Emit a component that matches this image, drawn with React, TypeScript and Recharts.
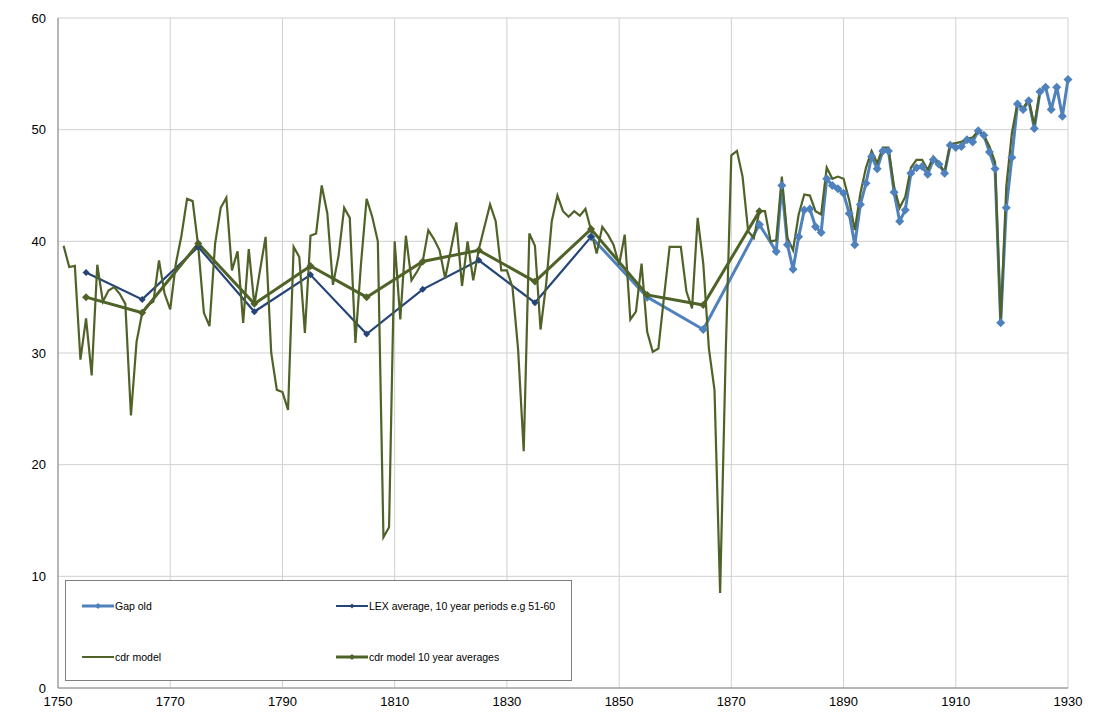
import React from "react";
import { CartesianGrid, Legend, Line, LineChart, XAxis, YAxis } from "recharts";

// cdr model, one value a year from 1751
const cdrStart = 1751;
const cdrModel = [
  39.6, 37.7, 37.8, 29.4, 33.1, 28.0, 37.9, 34.6, 35.6, 35.9,
  35.3, 34.4, 24.4, 31.0, 33.6, 34.3, 34.6, 38.3, 35.3, 33.9,
  38.0, 40.5, 43.8, 43.6, 39.5, 33.6, 32.4, 39.8, 43.0, 43.9,
  37.4, 39.1, 32.7, 39.3, 34.3, 37.4, 40.4, 30.0, 26.7, 26.5,
  24.9, 39.5, 38.6, 31.8, 40.5, 40.7, 45.0, 42.5, 36.1, 38.7,
  43.0, 42.1, 30.9, 38.0, 43.8, 42.2, 40.0, 13.5, 14.4, 40.0,
  33.0, 40.5, 36.5, 37.3, 38.2, 41.0, 40.2, 39.2, 36.7, 39.2,
  41.7, 36.0, 40.0, 36.5, 39.3, 41.3, 43.3, 41.8, 37.4, 37.4,
  35.9, 30.3, 21.2, 40.7, 39.6, 32.1, 36.2, 41.8, 44.1, 42.7,
  42.2, 42.7, 42.3, 42.9, 41.0, 38.9, 41.3, 40.6, 39.7, 37.9,
  40.6, 33.0, 33.7, 38.0, 31.9, 30.1, 30.4, 35.0, 39.5, 39.5,
  39.5, 35.5, 34.0, 42.1, 38.0, 30.4, 26.7, 8.5, 30.0, 47.7,
  48.1, 45.8, 40.9, 40.3, 42.7, 42.7, 40.0, 40.1, 45.8, 40.3,
  39.2, 42.4, 44.2, 44.1, 42.7, 42.4, 46.6, 45.6, 45.8, 45.6,
  43.7, 41.0, 44.3, 46.6, 48.1, 47.0, 48.4, 48.4, 44.9, 43.0,
  44.0, 46.6, 47.3, 47.3, 46.4, 47.6, 47.0, 46.2, 48.7, 48.8,
  48.9, 49.2, 49.3, 49.9, 49.5, 48.5, 47.1, 32.7, 44.9, 49.7,
  52.4, 51.9, 52.7, 50.4, 53.4,
];

const decadeYears = [1755, 1765, 1775, 1785, 1795, 1805, 1815, 1825, 1835, 1845, 1855, 1865, 1875];
const cdrAverages = [35.0, 33.6, 39.8, 34.4, 37.8, 35.0, 38.2, 39.2, 36.4, 41.1, 35.2, 34.3, 42.7];
const lexYears = [1755, 1765, 1775, 1785, 1795, 1805, 1815, 1825, 1835, 1845];
const lexAverage = [37.2, 34.8, 39.5, 33.7, 37.0, 31.7, 35.7, 38.3, 34.5, 40.4];

const gapYears = [
  1845, 1855, 1865, 1875, 1878, 1879, 1880, 1881, 1882, 1883, 1884, 1885, 1886, 1887,
  1888, 1889, 1890, 1891, 1892, 1893, 1894, 1895, 1896, 1897, 1898, 1899, 1900,
  1901, 1902, 1903, 1904, 1905, 1906, 1907, 1908, 1909, 1910, 1911, 1912, 1913,
  1914, 1915, 1916, 1917, 1918, 1919, 1920, 1921, 1922, 1923, 1924, 1925, 1926,
  1927, 1928, 1929, 1930,
];
const gapOld = [
  40.4, 35.0, 32.1, 41.5, 39.1, 45.0, 39.7, 37.5, 40.4, 42.8, 42.9, 41.3, 40.8, 45.6,
  45.0, 44.7, 44.3, 42.5, 39.7, 43.3, 45.2, 47.6, 46.5, 48.1, 48.1, 44.4, 41.8,
  42.8, 46.1, 46.6, 46.7, 46.0, 47.3, 46.9, 46.1, 48.6, 48.4, 48.5, 49.1, 48.9,
  49.9, 49.5, 48.0, 46.5, 32.7, 43.0, 47.5, 52.3, 51.8, 52.6, 50.1, 53.4, 53.8,
  51.8, 53.8, 51.2, 54.5,
];

const xTicks = [1750, 1770, 1790, 1810, 1830, 1850, 1870, 1890, 1910, 1930];
const yTicks = [0, 10, 20, 30, 40, 50, 60];

const GAP = "#4F81BD";
const LEX = "#254478";
const CDR = "#4F6228";

const table: any[] = [];
for (let y = 1751; y <= 1930; y++) {
  const row: any = { year: y };
  const ci = y - cdrStart;
  if (ci >= 0 && ci < cdrModel.length) row.cdr = cdrModel[ci];
  const ai = decadeYears.indexOf(y);
  if (ai >= 0) row.cdrAvg = cdrAverages[ai];
  const li = lexYears.indexOf(y);
  if (li >= 0) row.lex = lexAverage[li];
  const gi = gapYears.indexOf(y);
  if (gi >= 0) row.gap = gapOld[gi];
  table.push(row);
}

const diamond = (r: number, fill: string) => (props: any) => {
  const { cx, cy, index } = props;
  if (cx == null || cy == null || props.value == null) return <g key={index} />;
  return (
    <path
      key={index}
      d={`M${cx},${cy - r}L${cx + r},${cy}L${cx},${cy + r}L${cx - r},${cy}Z`}
      fill={fill}
    />
  );
};

const legendItems = [
  { name: "Gap old", color: GAP, width: 3, marker: 3, left: 16, top: 25 },
  { name: "LEX average, 10 year periods e.g 51-60", color: LEX, width: 2, marker: 2.5, left: 270, top: 25 },
  { name: "cdr model", color: CDR, width: 2, marker: 0, left: 16, top: 76 },
  { name: "cdr model 10 year averages", color: CDR, width: 3, marker: 3, left: 270, top: 76 },
];

function LegendBox() {
  return (
    <div
      style={{
        position: "relative",
        width: 505,
        height: 99,
        border: "1px solid #7f7f7f",
        background: "#fff",
        fontFamily: "'Liberation Sans', Arial, sans-serif",
        fontSize: 10.5,
        color: "#000",
      }}
    >
      {legendItems.map((it) => (
        <div key={it.name} style={{ position: "absolute", left: it.left, top: it.top - 7, height: 14, display: "flex", alignItems: "center", whiteSpace: "nowrap" }}>
          <svg width={32} height={14}>
            <line x1={0} y1={7} x2={32} y2={7} stroke={it.color} strokeWidth={it.width} />
            {it.marker > 0 && (
              <path d={`M16,${7 - it.marker}L${16 + it.marker},7L16,${7 + it.marker}L${16 - it.marker},7Z`} fill={it.color} />
            )}
          </svg>
          <span style={{ marginLeft: 1 }}>{it.name}</span>
        </div>
      ))}
    </div>
  );
}

export default function App() {
  return (
    <div style={{ position: "absolute", left: 0, top: 0, background: "#fff", fontFamily: "'Liberation Sans', Arial, sans-serif" }}>
      <LineChart width={1093} height={720} data={table} margin={{ top: 18, right: 25, bottom: 0, left: 0 }}>
        <CartesianGrid stroke="#d0d0d0" strokeWidth={1} />
        <XAxis
          dataKey="year"
          type="number"
          domain={[1750, 1930]}
          ticks={xTicks}
          height={32}
          tickLine={false}
          tickSize={0}
          tickMargin={9}
          stroke="#868686"
          tick={{ fill: "#000", fontSize: 13 }}
        />
        <YAxis
          type="number"
          domain={[0, 60]}
          ticks={yTicks}
          width={58}
          tickLine={false}
          tickSize={0}
          tickMargin={12}
          stroke="#868686"
          tick={{ fill: "#000", fontSize: 13 }}
        />
        <Line
          dataKey="gap"
          name="Gap old"
          stroke={GAP}
          strokeWidth={3}
          connectNulls
          dot={diamond(4.5, GAP)}
          activeDot={false}
          isAnimationActive={false}
        />
        <Line
          dataKey="lex"
          name="LEX average, 10 year periods e.g 51-60"
          stroke={LEX}
          strokeWidth={2.2}
          connectNulls
          dot={diamond(3.5, LEX)}
          activeDot={false}
          isAnimationActive={false}
        />
        <Line
          dataKey="cdr"
          name="cdr model"
          stroke={CDR}
          strokeWidth={2.2}
          dot={false}
          activeDot={false}
          isAnimationActive={false}
        />
        <Line
          dataKey="cdrAvg"
          name="cdr model 10 year averages"
          stroke={CDR}
          strokeWidth={3}
          connectNulls
          dot={diamond(4, CDR)}
          activeDot={false}
          isAnimationActive={false}
        />
        <Legend
          layout="horizontal"
          verticalAlign="middle"
          align="center"
          content={() => <LegendBox />}
          wrapperStyle={{ left: 65, top: 580, width: 507, height: 101 }}
        />
      </LineChart>
    </div>
  );
}
